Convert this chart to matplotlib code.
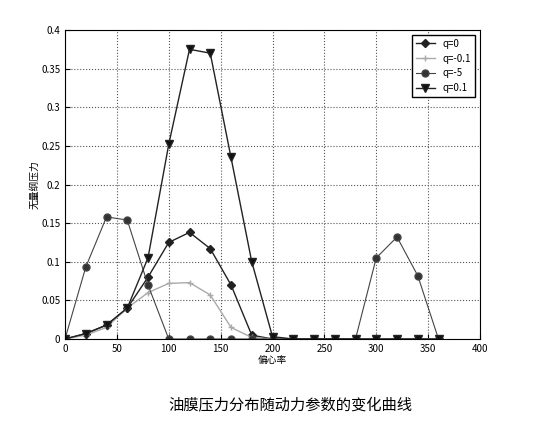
import matplotlib
matplotlib.use('Agg')
import matplotlib.pyplot as plt
import numpy as np
plt.rcParams['font.family'] = ['Noto Sans CJK SC', 'DejaVu Sans']

x = list(range(0, 361, 20))
q0 = [0,0.007,0.018,0.04,0.08,0.125,0.138,0.117,0.07,0.005,0,0,0,0,0,0,0,0,0]
qm01 = [0,0.005,0.015,0.04,0.06,0.072,0.073,0.057,0.015,0.002,0,0,0,0,0,0,0,0,0]
qm5 = [0,0.093,0.158,0.154,0.07,0,0,0,0,0,0,0,0,0,0,0.105,0.132,0.082,0]
q01 = [0,0.007,0.018,0.04,0.105,0.252,0.375,0.37,0.235,0.1,0.003,0,0,0,0,0,0,0,0]

fig = plt.figure(figsize=(5.39,4.26), dpi=100)
ax = fig.add_axes([65/539, 1-339/426, 415/539, 309/426])
ax.plot(x, q0, '-D', color='#222', ms=4, lw=1, label='q=0')
ax.plot(x, qm01, '-+', color='#aaa', ms=4, lw=1, label='q=-0.1')
ax.plot(x, qm5, '-o', color='#444', mfc='#333', ms=5, lw=0.8, label='q=-5')
ax.plot(x, q01, '-v', color='#222', mfc='#111', ms=6, lw=1, label='q=0.1')
ax.set_xlim(0,400); ax.set_ylim(0,0.4)
ax.set_xticks(range(0,401,50)); ax.set_yticks(np.arange(0,0.41,0.05))
ax.set_yticklabels(['0','0.05','0.1','0.15','0.2','0.25','0.3','0.35','0.4'])
ax.grid(True, ls=':', color='#555', lw=0.8)
ax.tick_params(labelsize=7, direction='in')
ax.set_xlabel('偏心率', fontsize=7, labelpad=1)
ax.set_ylabel('无量纲压力', fontsize=7, labelpad=1)
leg = ax.legend(loc='upper right', fontsize=7, fancybox=False, edgecolor='black', framealpha=1)
fig.text(290/539, 1-405/426, '油膜压力分布随动力参数的变化曲线', ha='center', va='center', fontsize=11)
fig.savefig('out.png')
